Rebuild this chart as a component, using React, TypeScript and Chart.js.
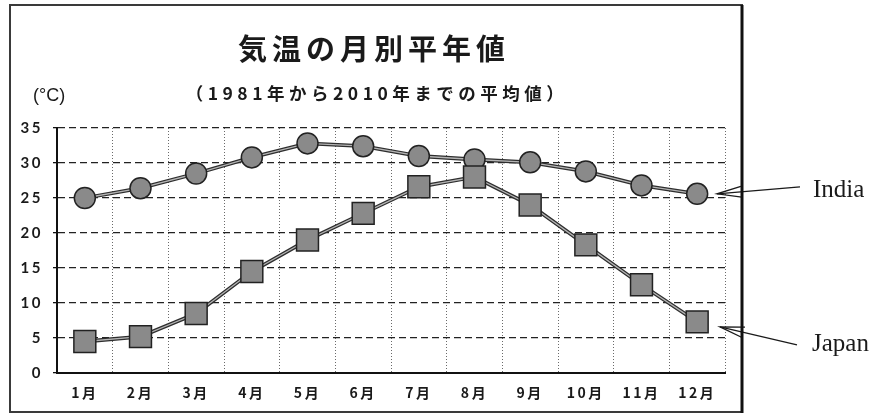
import { useEffect, useRef } from "react";
import { Chart, registerables } from "chart.js";

Chart.register(...registerables);

const months = ["1月", "2月", "3月", "4月", "5月", "6月", "7月", "8月", "9月", "10月", "11月", "12月"];
const india = [25.0, 26.4, 28.5, 30.8, 32.8, 32.4, 31.0, 30.5, 30.1, 28.8, 26.8, 25.6];
const japan = [4.5, 5.2, 8.5, 14.5, 19.0, 22.8, 26.6, 28.0, 24.0, 18.3, 12.6, 7.3];
const yMin = 0;
const yMax = 35;
const yStep = 5;
const titleText = "気温の月別平年値";
const subtitleText = "（1981年から2010年までの平均値）";
const unitText = "(°C)";
const indiaName = "India";
const japanName = "Japan";

const decorPlugin = {
  id: "decor",
  beforeDraw(chart: any) {
    chart.ctx.letterSpacing = "2.5px";
  },
  afterDraw(chart: any) {
    const ctx = chart.ctx as CanvasRenderingContext2D;
    const ys = chart.scales.y;
    const area = chart.chartArea;
    ctx.save();
    (ctx as any).letterSpacing = "0px";
    ctx.fillStyle = "#1a1a1a";
    ctx.strokeStyle = "#1a1a1a";

    // title
    (ctx as any).letterSpacing = "5px";
    ctx.font = 'bold 29px "Noto Sans CJK JP"';
    ctx.textAlign = "center";
    ctx.textBaseline = "middle";
    ctx.fillText(titleText, 374, 49);

    // subtitle
    (ctx as any).letterSpacing = "4.5px";
    ctx.font = 'bold 17.5px "Noto Sans CJK JP"';
    ctx.fillText(subtitleText, 377, 93);

    // unit
    (ctx as any).letterSpacing = "0px";
    ctx.font = '18px "Liberation Sans"';
    ctx.textAlign = "left";
    ctx.fillText(unitText, 33, 96);

    // annotations
    const drawArrow = (tipX: number, tipY: number, endX: number, endY: number) => {
      ctx.lineWidth = 1.3;
      ctx.beginPath();
      ctx.moveTo(endX, endY);
      ctx.lineTo(tipX, tipY);
      ctx.stroke();
      const ang = Math.atan2(endY - tipY, endX - tipX);
      const len = 25;
      const spread = 0.22;
      ctx.beginPath();
      ctx.moveTo(tipX + len * Math.cos(ang - spread), tipY + len * Math.sin(ang - spread));
      ctx.lineTo(tipX, tipY);
      ctx.lineTo(tipX + len * Math.cos(ang + spread), tipY + len * Math.sin(ang + spread));
      ctx.stroke();
    };
    const iy = ys.getPixelForValue(india[india.length - 1]);
    const jy = ys.getPixelForValue(japan[japan.length - 1]);
    drawArrow(area.right - 8, iy, 800, iy - 7);
    drawArrow(area.right - 5, jy + 5, 797, jy + 23);
    ctx.font = '25px "Liberation Serif"';
    ctx.textAlign = "left";
    ctx.textBaseline = "alphabetic";
    ctx.fillText(indiaName, 813, 197);
    ctx.fillText(japanName, 812, 351);

    // frame
    ctx.strokeStyle = "#3a3a3a";
    ctx.lineWidth = 2;
    ctx.strokeRect(10, 5, 732, 407);
    ctx.strokeStyle = "#111";
    ctx.lineWidth = 3;
    ctx.beginPath();
    ctx.moveTo(742, 5);
    ctx.lineTo(742, 413);
    ctx.stroke();
    ctx.restore();
  },
};

export default function App() {
  const ref = useRef<HTMLCanvasElement>(null);
  useEffect(() => {
    if (!ref.current) return;
    const markerBg = "#8a8a8a";
    const markerBorder = "#222";
    const chart = new Chart(ref.current, {
      type: "line",
      data: {
        labels: months,
        datasets: [
          {
            label: japanName,
            data: japan,
            showLine: false,
            pointStyle: "rect",
            pointRadius: 15.5,
            pointBackgroundColor: markerBg,
            pointBorderColor: markerBorder,
            pointBorderWidth: 1.5,
            order: 0,
            clip: false,
          },
          {
            label: indiaName,
            data: india,
            showLine: false,
            pointStyle: "circle",
            pointRadius: 10.5,
            pointBackgroundColor: markerBg,
            pointBorderColor: markerBorder,
            pointBorderWidth: 1.5,
            order: 1,
            clip: false,
          },
          {
            label: japanName + " line",
            data: japan,
            borderColor: "#b4b4b4",
            borderWidth: 1.3,
            pointRadius: 0,
            tension: 0,
            order: 2,
          },
          {
            label: japanName + " line outer",
            data: japan,
            borderColor: "#2e2e2e",
            borderWidth: 3.8,
            pointRadius: 0,
            tension: 0,
            order: 3,
          },
          {
            label: indiaName + " line",
            data: india,
            borderColor: "#b4b4b4",
            borderWidth: 1.3,
            pointRadius: 0,
            tension: 0,
            order: 4,
          },
          {
            label: indiaName + " line outer",
            data: india,
            borderColor: "#2e2e2e",
            borderWidth: 3.8,
            pointRadius: 0,
            tension: 0,
            order: 5,
          },
        ],
      },
      options: {
        responsive: false,
        animation: false,
        layout: { padding: { left: 0, right: 153, top: 128, bottom: 0 } },
        plugins: {
          legend: { display: false },
          tooltip: { enabled: false },
          title: { display: false },
        },
        scales: {
          x: {
            type: "category",
            offset: true,
            grid: { offset: true, color: "#6a6a6a", lineWidth: 1, drawTicks: false },
            border: { display: true, color: "#111", width: 2, dash: [1, 2] },
            ticks: {
              padding: 11,
              color: "#1a1a1a",
              autoSkip: false,
              maxRotation: 0,
              font: { family: '"Noto Sans CJK JP"', size: 14, weight: "bold" },
            },
            afterFit: (s: any) => {
              s.height = 46;
            },
          },
          y: {
            min: yMin,
            max: yMax,
            grid: {
              color: "#222",
              lineWidth: 1.3,
              drawTicks: true,
              tickLength: 4,
              tickColor: "#111",
              tickBorderDash: [],
            },
            border: { display: true, color: "#111", width: 2, dash: [7, 4] },
            ticks: {
              stepSize: yStep,
              padding: 10,
              color: "#1a1a1a",
              font: { family: "Lato", size: 15, weight: "bold" },
            },
            afterFit: (s: any) => {
              s.width = 57;
            },
          },
        },
      },
      plugins: [decorPlugin],
    } as any);
    return () => chart.destroy();
  }, []);
  return (
    <div style={{ position: "absolute", left: 0, top: 0, width: 878, height: 419, background: "#fff" }}>
      <canvas ref={ref} width={878} height={419} />
    </div>
  );
}
